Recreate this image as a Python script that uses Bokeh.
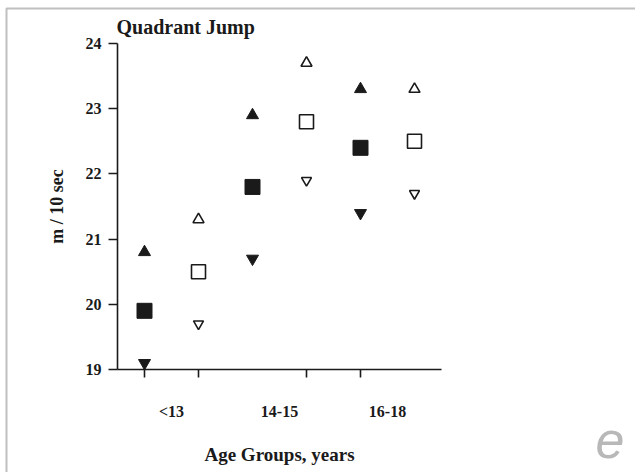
from bokeh.plotting import figure
from bokeh.models import FixedTicker, BoxAnnotation, Label, Range1d, ColumnDataSource
from bokeh.embed import file_html
from bokeh.resources import INLINE

# ---- data ----
groups = ["<13", "14-15", "16-18"]
filled_upper = [20.8, 22.9, 23.3]
filled_mean = [19.9, 21.8, 22.4]
filled_lower = [19.1, 20.7, 21.4]
open_upper = [21.3, 23.7, 23.3]
open_mean = [20.5, 22.8, 22.5]
open_lower = [19.7, 21.9, 21.7]
y_ticks = [19, 20, 21, 22, 23, 24]
y_min, y_max = 19, 24

# dodge positions derived from category index
centers = [i + 1 for i in range(len(groups))]
x_filled = [c - 0.25 for c in centers]
x_open = [c + 0.25 for c in centers]
tick_marks = [x_filled[0], x_open[0], x_open[1], x_filled[2]]
x_min, x_max = 0.5, len(groups) + 0.5

# ---- layout (pixels) ----
W, H = 635, 472
AX_LEFT, AX_RIGHT, AX_TOP, AX_BOTTOM = 117, 441, 43, 369
sx = (AX_RIGHT - AX_LEFT) / (x_max - x_min)
sy = (AX_BOTTOM - AX_TOP) / (y_max - y_min)
x_range = Range1d(x_min - AX_LEFT / sx, x_max + (W - AX_RIGHT) / sx)
y_range = Range1d(y_min - (H - AX_BOTTOM) / sy, y_max + AX_TOP / sy)

SERIF = "Liberation Serif"
INK = "#1a1a1a"

p = figure(frame_width=W, frame_height=H, output_backend="svg", toolbar_location=None,
           x_range=x_range, y_range=y_range, title=None,
           min_border=0, min_border_left=0, min_border_right=0,
           min_border_top=0, min_border_bottom=0)
p.outline_line_color = None
p.grid.visible = False
p.background_fill_color = "white"
p.border_fill_color = "white"

src_f = ColumnDataSource(dict(x=x_filled, up=filled_upper, mid=filled_mean, lo=filled_lower))
src_o = ColumnDataSource(dict(x=x_open, up=open_upper, mid=open_mean, lo=open_lower))

p.scatter("x", "up", source=src_f, marker="triangle", size=12, fill_color=INK, line_color=INK)
p.scatter("x", "mid", source=src_f, marker="square", size=15, fill_color=INK, line_color=INK)
p.scatter("x", "lo", source=src_f, marker="inverted_triangle", size=12, fill_color=INK, line_color=INK)
p.scatter("x", "up", source=src_o, marker="triangle", size=11, fill_color="white", line_color=INK, line_width=1.6)
p.scatter("x", "mid", source=src_o, marker="square", size=14, fill_color="white", line_color=INK, line_width=1.6)
p.scatter("x", "lo", source=src_o, marker="inverted_triangle", size=10, fill_color="white", line_color=INK, line_width=1.6)

for ax in (p.xaxis[0], p.yaxis[0]):
    ax.axis_line_color = INK
    ax.axis_line_width = 1.6
    ax.major_label_text_font = SERIF
    ax.major_label_text_font_style = "bold"
    ax.major_label_text_font_size = "16px"
    ax.major_label_text_color = INK
    ax.axis_label_text_font = SERIF
    ax.axis_label_text_font_style = "bold"
    ax.axis_label_text_color = INK

xa = p.xaxis[0]
xa.fixed_location = y_min
xa.bounds = (x_min, x_max)
xa.ticker = FixedTicker(ticks=centers, minor_ticks=tick_marks)
xa.major_label_overrides = {c: g for c, g in zip(centers, groups)}
xa.major_tick_line_color = None
xa.major_tick_out = 8
xa.major_tick_in = 0
xa.minor_tick_line_color = INK
xa.minor_tick_line_width = 1.6
xa.minor_tick_out = 8
xa.minor_tick_in = 0
xa.major_label_standoff = 25
xa.axis_label = "Age Groups, years"
xa.axis_label_text_font_size = "19px"
xa.axis_label_standoff = 21

ya = p.yaxis[0]
ya.fixed_location = x_min
ya.bounds = (y_min, y_max)
ya.ticker = FixedTicker(ticks=y_ticks, minor_ticks=[])
ya.major_tick_line_color = INK
ya.major_tick_line_width = 1.6
ya.major_tick_out = 9
ya.major_tick_in = 0
ya.minor_tick_line_color = None
ya.major_label_standoff = 7
ya.axis_label = "m / 10 sec"
ya.axis_label_text_font_size = "18px"
ya.axis_label_standoff = 16

# chart title
p.add_layout(Label(x=116, y=26, x_units="canvas", y_units="canvas", text="Quadrant Jump",
                   text_font=SERIF, text_font_style="bold", text_font_size="20px",
                   text_color=INK, text_baseline="alphabetic", text_align="left"))

# outer frame (only left and top edges fall inside the canvas)
p.add_layout(BoxAnnotation(left=6, right=2000, top=8, bottom=2000,
                           left_units="canvas", right_units="canvas",
                           top_units="canvas", bottom_units="canvas",
                           fill_alpha=0, line_color="#2a2a2a", line_width=2))

p.add_layout(Label(x=595, y=439, x_units="canvas", y_units="canvas", text="e",
                   text_font="Liberation Sans", text_font_style="italic",
                   text_font_size="52px", text_color="#b8b8b8",
                   text_baseline="alphabetic", text_align="left"))

open("out.html", "w").write(file_html(p, INLINE))
